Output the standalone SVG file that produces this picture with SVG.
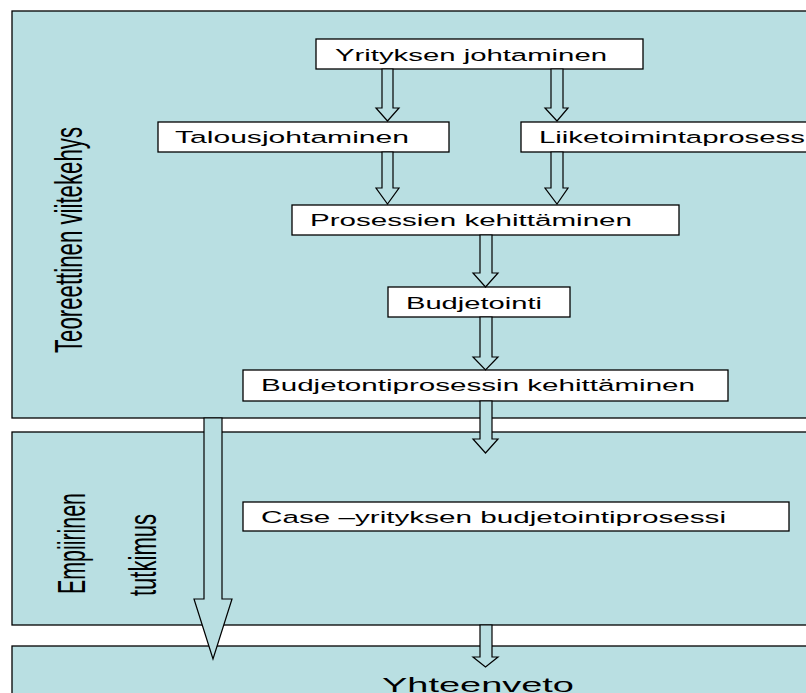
<svg xmlns="http://www.w3.org/2000/svg" width="806" height="693" viewBox="0 0 806 693">
  <style>
    .panel { fill: #b9dfe2; stroke: #000; stroke-width: 1.3; }
    .box { fill: #ffffff; stroke: #000; stroke-width: 1.3; }
    .arrow { fill: #b9dfe2; stroke: #000; stroke-width: 1.2; stroke-linejoin: miter; }
    .lbl { font-family: "Liberation Sans", Arial, sans-serif; font-size: 16.3px; fill: #000; }
    .side { font-family: "Liberation Sans", Arial, sans-serif; font-size: 39px; fill: #000; }
    .big { font-family: "Liberation Sans", Arial, sans-serif; font-size: 21px; fill: #000; }
  </style>
  <rect width="806" height="693" fill="#ffffff"/>

  <!-- Section bands -->
  <g id="panel-teoria">
    <rect class="panel" x="12" y="11" width="820" height="407"/>
    <text class="side" transform="translate(82,353) rotate(-90)" textLength="226" lengthAdjust="spacingAndGlyphs">Teoreettinen viitekehys</text>
  </g>
  <g id="panel-empiria">
    <rect class="panel" x="12" y="432" width="820" height="193"/>
    <text class="side" transform="translate(85,594) rotate(-90)" textLength="101" lengthAdjust="spacingAndGlyphs">Empiirinen</text>
    <text class="side" transform="translate(156,596) rotate(-90)" textLength="82" lengthAdjust="spacingAndGlyphs">tutkimus</text>
  </g>
  <g id="panel-yhteenveto">
    <rect class="panel" x="12" y="646" width="820" height="60"/>
    <text class="big" x="382" y="692" textLength="192" lengthAdjust="spacingAndGlyphs">Yhteenveto</text>
  </g>

  <!-- Nodes -->
  <g id="node-yritys">
    <rect class="box" x="316" y="39" width="327" height="30"/>
    <text class="lbl" x="335" y="61" textLength="272" lengthAdjust="spacingAndGlyphs">Yrityksen johtaminen</text>
  </g>
  <g id="node-talous">
    <rect class="box" x="158" y="122" width="291" height="30"/>
    <text class="lbl" x="175" y="143" textLength="234" lengthAdjust="spacingAndGlyphs">Talousjohtaminen</text>
  </g>
  <g id="node-liiketoiminta">
    <rect class="box" x="521" y="122" width="310" height="30"/>
    <text class="lbl" x="539" y="143" textLength="266" lengthAdjust="spacingAndGlyphs">Liiketoimintaprosess</text>
  </g>
  <g id="node-prosessit">
    <rect class="box" x="292" y="205" width="387" height="30"/>
    <text class="lbl" x="310" y="226" textLength="322" lengthAdjust="spacingAndGlyphs">Prosessien kehittäminen</text>
  </g>
  <g id="node-budjetointi">
    <rect class="box" x="388" y="287" width="182" height="30"/>
    <text class="lbl" x="406" y="309" textLength="136" lengthAdjust="spacingAndGlyphs">Budjetointi</text>
  </g>
  <g id="node-budjetointiprosessi">
    <rect class="box" x="243" y="370" width="485" height="31"/>
    <text class="lbl" x="261" y="391" textLength="434" lengthAdjust="spacingAndGlyphs">Budjetontiprosessin kehittäminen</text>
  </g>
  <g id="node-case">
    <rect class="box" x="243" y="502" width="546" height="29"/>
    <text class="lbl" x="261" y="523" textLength="465" lengthAdjust="spacingAndGlyphs">Case –yrityksen budjetointiprosessi</text>
  </g>

  <!-- Block arrows -->
  <g id="connectors">
    <polygon class="arrow" points="382,69 393,69 393,108 399,108 387.5,121 376,108 382,108"/>
    <polygon class="arrow" points="551,69 563,69 563,108 568,108 557,121 545,108 551,108"/>
    <polygon class="arrow" points="382,152 393,152 393,188 399,188 387.5,204 376,188 382,188"/>
    <polygon class="arrow" points="551,152 563,152 563,188 568,188 557,204 545,188 551,188"/>
    <polygon class="arrow" points="480,235 492,235 492,273 498,273 485.5,287 473,273 480,273"/>
    <polygon class="arrow" points="480,317 492,317 492,357 498,357 485.5,370 473,357 480,357"/>
    <polygon class="arrow" points="480,401 492,401 492,439 498,439 485.5,453 473,439 480,439"/>
    <polygon class="arrow" points="480,625 492,625 492,657 498,657 485.5,667 473,657 480,657"/>
    <polygon class="arrow" points="204,418 222,418 222,599 232,599 213,659 194,599 204,599"/>
  </g>
</svg>
